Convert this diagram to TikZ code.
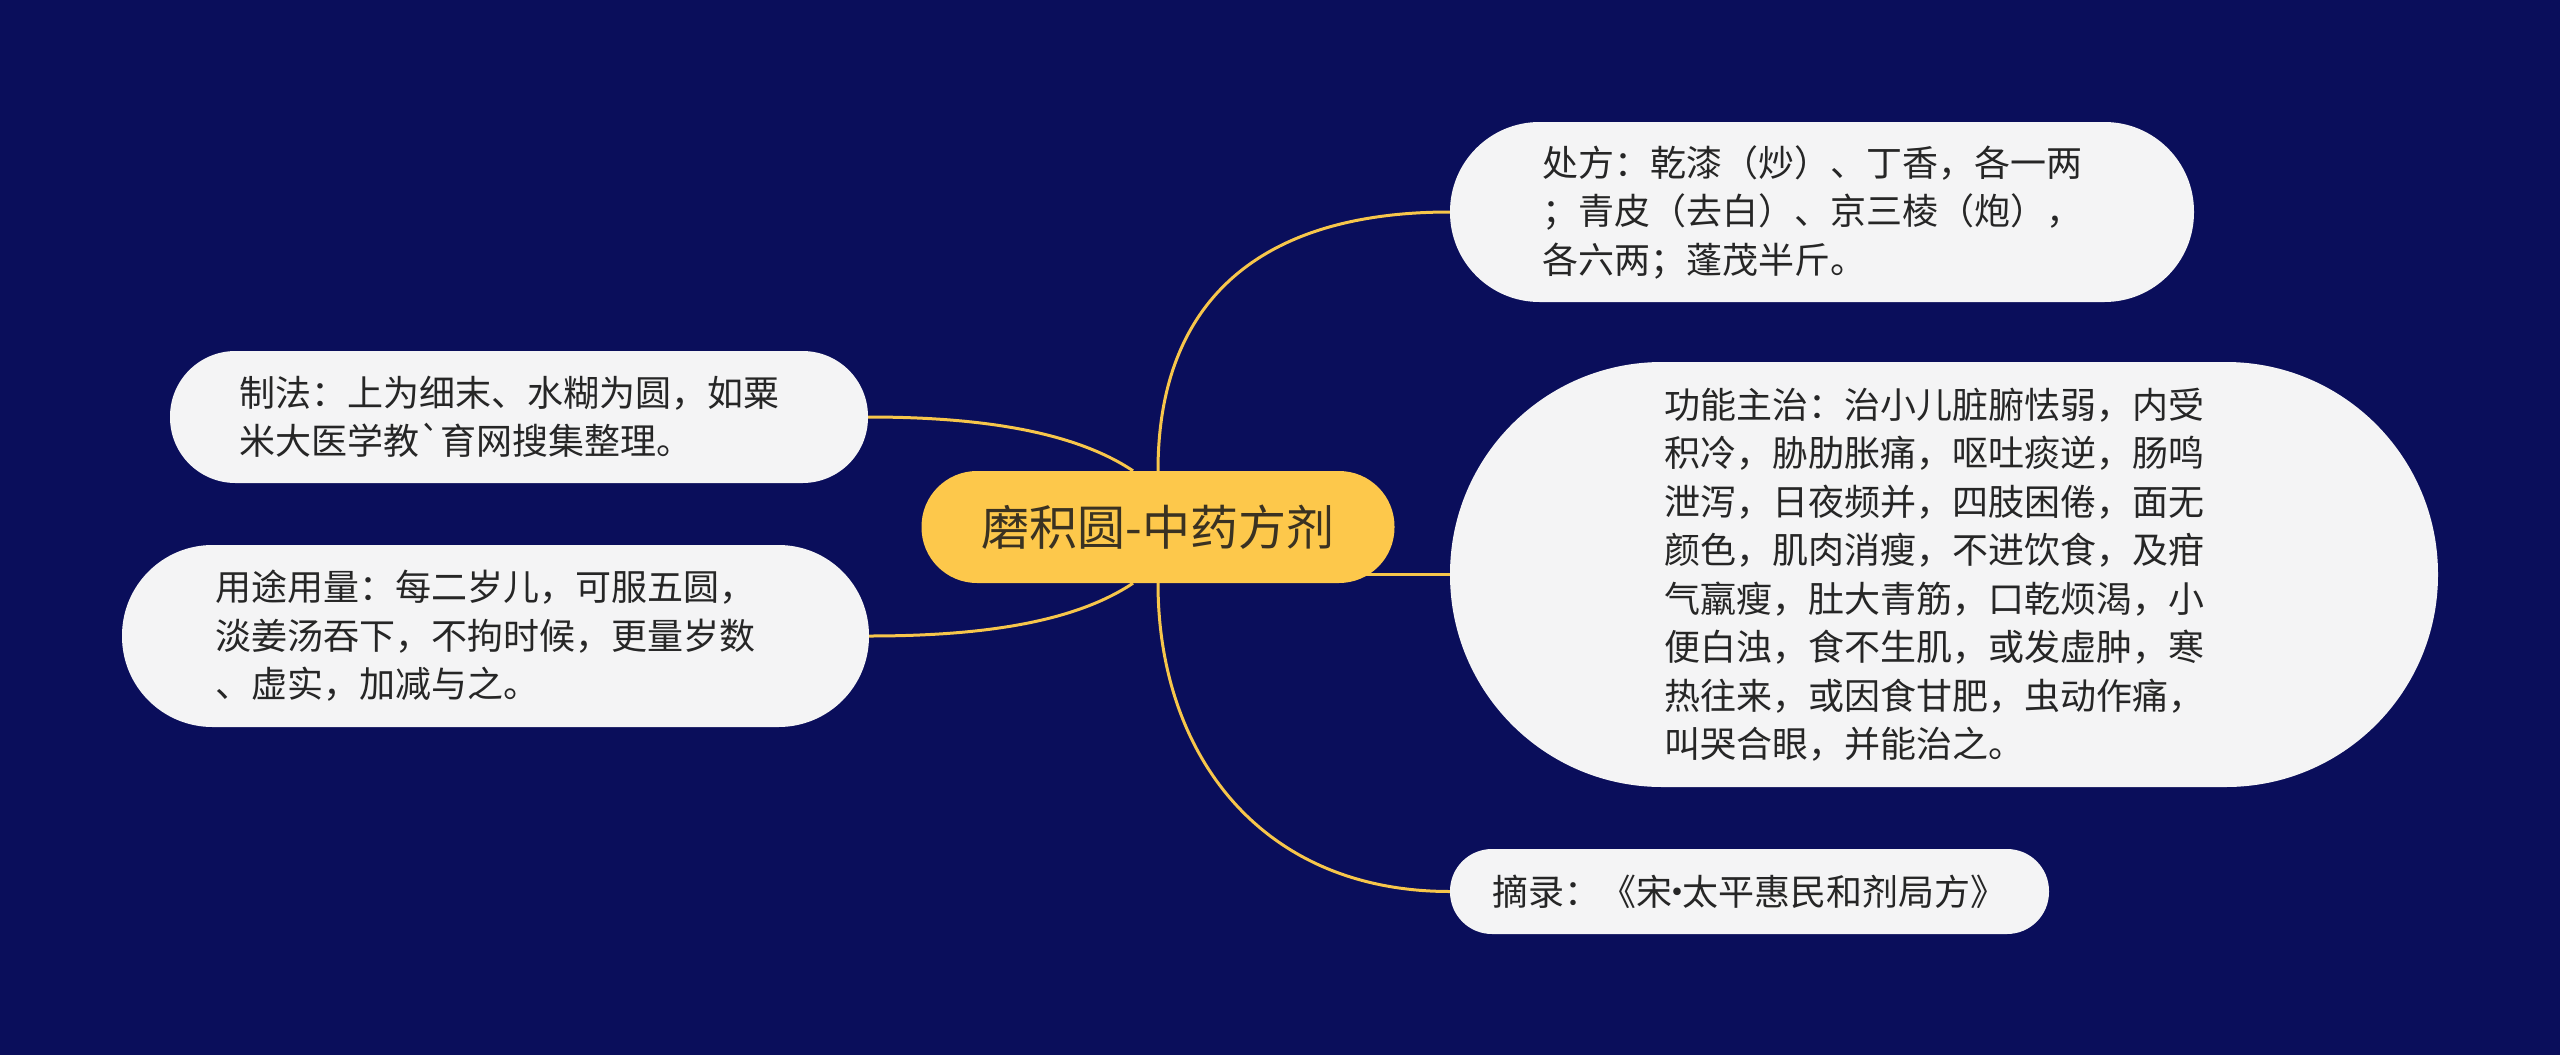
\documentclass[tikz,border=0pt]{standalone}
\usepackage{fontspec}
\newfontfamily\cjk{Noto Sans CJK SC}
\usetikzlibrary{backgrounds}
\definecolor{bgc}{HTML}{0A0E5B}
\definecolor{mainc}{HTML}{FDC84B}
\definecolor{maintext}{HTML}{3A3222}
\definecolor{leafc}{HTML}{F4F4F5}
\definecolor{leaftext}{HTML}{262626}
\definecolor{linkc}{HTML}{F7C64B}
\begin{document}
\begin{tikzpicture}[x=1pt,y=-1pt,
  leaf/.style={fill=leafc, text=leaftext, inner sep=0pt, text width=560pt, align=left,
    font={\cjk\fontsize{36pt}{48.5pt}\selectfont}},
  topic/.style={fill=mainc, text=maintext, inner sep=0pt, align=center,
    font={\cjk\fontsize{48pt}{56pt}\selectfont}},
  link/.style={draw=linkc, line width=3pt}]
\useasboundingbox (0,0) rectangle (2560,1055);

\node[topic, minimum width=473pt, minimum height=112pt, rounded corners=55.5pt] (c) at (1158,527) {磨积圆-中药方剂};

\node[leaf, minimum width=744pt, minimum height=180pt, rounded corners=89.5pt] (n1) at (1822,212)
  {处方：乾漆（炒）、丁香，各一两\\；青皮（去白）、京三棱（炮），\\各六两；蓬茂半斤。};

\node[leaf, minimum width=988pt, minimum height=425pt, rounded corners=212pt] (n2) at (1944,574.5)
  {功能主治：治小儿脏腑怯弱，内受\\积冷，胁肋胀痛，呕吐痰逆，肠鸣\\泄泻，日夜频并，四肢困倦，面无\\颜色，肌肉消瘦，不进饮食，及疳\\气羸瘦，肚大青筋，口乾烦渴，小\\便白浊，食不生肌，或发虚肿，寒\\热往来，或因食甘肥，虫动作痛，\\叫哭合眼，并能治之。};

\node[leaf, text width=515pt, minimum width=599pt, minimum height=85pt, rounded corners=42pt] (n3) at (1749.5,891.5)
  {摘录：《宋\makebox[10pt][c]{·}太平惠民和剂局方》};

\node[leaf, minimum width=698pt, minimum height=132pt, rounded corners=65.5pt] (n4) at (519,417)
  {制法：上为细末、水糊为圆，如粟\\米大医学教`育网搜集整理。};

\node[leaf, minimum width=747pt, minimum height=182pt, rounded corners=90.5pt] (n5) at (495.5,636)
  {用途用量：每二岁儿，可服五圆，\\淡姜汤吞下，不拘时候，更量岁数\\、虚实，加减与之。};

\begin{scope}[on background layer]
  \fill[bgc] (0,0) rectangle (2560,1055);
  \draw[link] (c.north) .. controls +(0,-170) and +(-190,0) .. (n1.west);
  \draw[link] (c.center |- n2.west) -- (n2.west);
  \draw[link] (c.south) .. controls +(0,170) and +(-190,0) .. (n3.west);
  \draw[link] ([xshift=-25pt]c.north) .. controls +(-60,-40) and +(110,0) .. (n4.east);
  \draw[link] ([xshift=-25pt]c.south) .. controls +(-60,40) and +(110,0) .. (n5.east);
\end{scope}
\end{tikzpicture}
\end{document}
